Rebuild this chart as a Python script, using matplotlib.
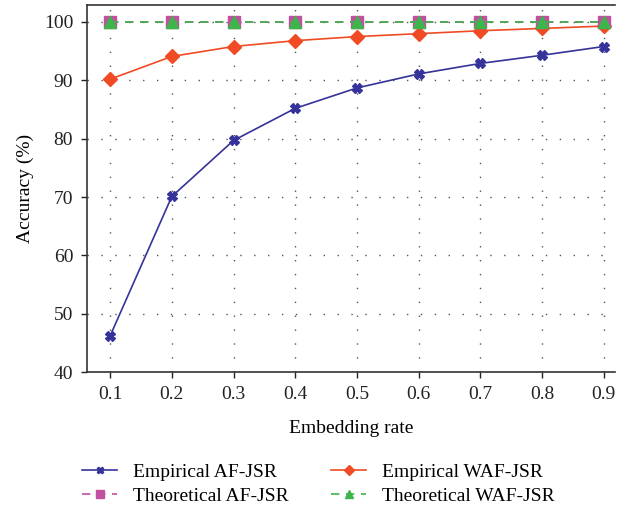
import matplotlib
matplotlib.use("Agg")
import matplotlib.pyplot as plt

plt.rcParams['font.family'] = ['Liberation Serif', 'DejaVu Serif']

# embedding rates and accuracies (%)
rates = [0.1, 0.2, 0.3, 0.4, 0.5, 0.6, 0.7, 0.8, 0.9]
emp_af = [46.2, 70.1, 79.7, 85.2, 88.7, 91.1, 92.9, 94.3, 95.8]
emp_waf = [90.2, 94.1, 95.8, 96.8, 97.5, 98.0, 98.5, 98.9, 99.3]
theo_af = [100, 100, 100, 100, 100, 100, 100, 100, 100]
theo_waf = [100, 100, 100, 100, 100, 100, 100, 100, 100]

fig = plt.figure(figsize=(6.18, 5.07), dpi=100)
ax = fig.add_axes([0.141, 0.266, 0.854, 0.724])

l1, = ax.plot(rates, emp_af, color='#35339a', marker='X', ms=7, lw=1.2, label='Empirical AF-JSR')
l2, = ax.plot(rates, emp_waf, color='#f04b24', marker='D', ms=7, lw=1.2, label='Empirical WAF-JSR')
l3, = ax.plot(rates, theo_af, color='#c050a0', marker='s', ms=8, lw=1.2, ls=(0, (5, 4)), label='Theoretical AF-JSR')
l4, = ax.plot(rates, theo_waf, color='#3cb54a', marker='^', ms=8, lw=1.2, ls=(0, (5, 4)), label='Theoretical WAF-JSR')

ax.set_xlim(0.0628, 0.918)
ax.set_ylim(40, 102.9)
ax.set_xticks(rates)
ax.set_xticklabels([f'{r:.1f}' for r in rates])
ax.set_yticks([40, 50, 60, 70, 80, 90, 100])
ax.grid(True, color='#555555', ls=(0, (1, 9)), lw=1.0)
ax.set_axisbelow(True)
ax.spines['right'].set_visible(False)
for s in ['left', 'bottom', 'top']:
    ax.spines[s].set_color('#333333')
    ax.spines[s].set_linewidth(1.2)
ax.tick_params(direction='out', length=4, width=1, labelsize=14, colors='#222222', pad=6)

ax.set_xlabel('Embedding rate', fontsize=14, labelpad=12)
ax.set_ylabel('Accuracy (%)', fontsize=14, labelpad=7)

# row-wise order: empirical on top, theoretical below
fig.legend([l1, l3, l2, l4], [l.get_label() for l in (l1, l3, l2, l4)],
           loc='lower center', ncol=2, frameon=False, fontsize=14,
           bbox_to_anchor=(0.515, -0.03), handlelength=1.8, columnspacing=2.2,
           labelspacing=0.3, markerscale=0.7)

fig.savefig('out.png', dpi=100)
